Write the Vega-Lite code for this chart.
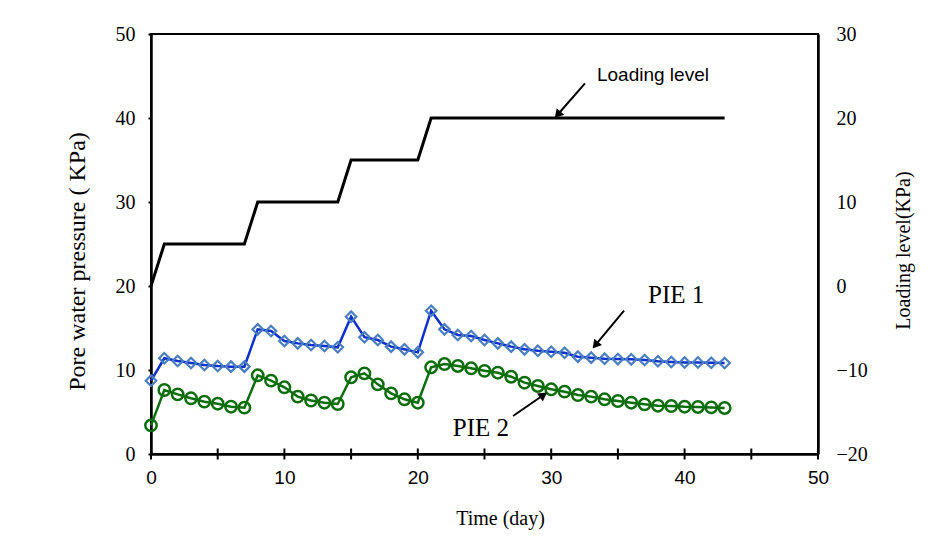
{
  "$schema": "https://vega.github.io/schema/vega-lite/v6.json",
  "width": 667,
  "height": 420,
  "autosize": "none",
  "padding": {"left": 151, "top": 34, "right": 133, "bottom": 83},
  "background": "white",
  "config": {
    "view": {"stroke": "black", "strokeWidth": 2},
    "axis": {"grid": false, "ticks": true, "zindex": 1, "domainColor": "black", "domainWidth": 2.5, "tickColor": "black", "tickWidth": 2, "tickOpacity": 1, "labelColor": "black", "titleColor": "black", "titleFontWeight": "normal", "labelFlush": false, "labelOverlap": false}
  },
  "datasets": {
    "pie": [
      {"day": 0, "series": "PIE 1", "value": 8.73}, {"day": 1, "series": "PIE 1", "value": 11.4}, {"day": 2, "series": "PIE 1", "value": 11.07}, {"day": 3, "series": "PIE 1", "value": 10.83}, {"day": 4, "series": "PIE 1", "value": 10.6}, {"day": 5, "series": "PIE 1", "value": 10.48}, {"day": 6, "series": "PIE 1", "value": 10.4}, {"day": 7, "series": "PIE 1", "value": 10.4}, {"day": 8, "series": "PIE 1", "value": 14.84}, {"day": 9, "series": "PIE 1", "value": 14.64}, {"day": 10, "series": "PIE 1", "value": 13.45}, {"day": 11, "series": "PIE 1", "value": 13.17}, {"day": 12, "series": "PIE 1", "value": 12.97}, {"day": 13, "series": "PIE 1", "value": 12.86}, {"day": 14, "series": "PIE 1", "value": 12.7}, {"day": 15, "series": "PIE 1", "value": 16.35}, {"day": 16, "series": "PIE 1", "value": 13.9}, {"day": 17, "series": "PIE 1", "value": 13.57}, {"day": 18, "series": "PIE 1", "value": 12.78}, {"day": 19, "series": "PIE 1", "value": 12.46}, {"day": 20, "series": "PIE 1", "value": 12.1}, {"day": 21, "series": "PIE 1", "value": 17.06}, {"day": 22, "series": "PIE 1", "value": 14.84}, {"day": 23, "series": "PIE 1", "value": 14.17}, {"day": 24, "series": "PIE 1", "value": 14.05}, {"day": 25, "series": "PIE 1", "value": 13.57}, {"day": 26, "series": "PIE 1", "value": 13.17}, {"day": 27, "series": "PIE 1", "value": 12.78}, {"day": 28, "series": "PIE 1", "value": 12.46}, {"day": 29, "series": "PIE 1", "value": 12.3}, {"day": 30, "series": "PIE 1", "value": 12.18}, {"day": 31, "series": "PIE 1", "value": 12.06}, {"day": 32, "series": "PIE 1", "value": 11.59}, {"day": 33, "series": "PIE 1", "value": 11.47}, {"day": 34, "series": "PIE 1", "value": 11.35}, {"day": 35, "series": "PIE 1", "value": 11.3}, {"day": 36, "series": "PIE 1", "value": 11.27}, {"day": 37, "series": "PIE 1", "value": 11.19}, {"day": 38, "series": "PIE 1", "value": 11.05}, {"day": 39, "series": "PIE 1", "value": 10.96}, {"day": 40, "series": "PIE 1", "value": 10.9}, {"day": 41, "series": "PIE 1", "value": 10.9}, {"day": 42, "series": "PIE 1", "value": 10.87}, {"day": 43, "series": "PIE 1", "value": 10.83},
      {"day": 0, "series": "PIE 2", "value": 3.41}, {"day": 1, "series": "PIE 2", "value": 7.62}, {"day": 2, "series": "PIE 2", "value": 7.1}, {"day": 3, "series": "PIE 2", "value": 6.63}, {"day": 4, "series": "PIE 2", "value": 6.23}, {"day": 5, "series": "PIE 2", "value": 5.99}, {"day": 6, "series": "PIE 2", "value": 5.63}, {"day": 7, "series": "PIE 2", "value": 5.52}, {"day": 8, "series": "PIE 2", "value": 9.37}, {"day": 9, "series": "PIE 2", "value": 8.73}, {"day": 10, "series": "PIE 2", "value": 7.94}, {"day": 11, "series": "PIE 2", "value": 6.83}, {"day": 12, "series": "PIE 2", "value": 6.37}, {"day": 13, "series": "PIE 2", "value": 6.11}, {"day": 14, "series": "PIE 2", "value": 5.95}, {"day": 15, "series": "PIE 2", "value": 9.13}, {"day": 16, "series": "PIE 2", "value": 9.6}, {"day": 17, "series": "PIE 2", "value": 8.29}, {"day": 18, "series": "PIE 2", "value": 7.22}, {"day": 19, "series": "PIE 2", "value": 6.51}, {"day": 20, "series": "PIE 2", "value": 6.11}, {"day": 21, "series": "PIE 2", "value": 10.32}, {"day": 22, "series": "PIE 2", "value": 10.71}, {"day": 23, "series": "PIE 2", "value": 10.48}, {"day": 24, "series": "PIE 2", "value": 10.2}, {"day": 25, "series": "PIE 2", "value": 9.9}, {"day": 26, "series": "PIE 2", "value": 9.68}, {"day": 27, "series": "PIE 2", "value": 9.2}, {"day": 28, "series": "PIE 2", "value": 8.49}, {"day": 29, "series": "PIE 2", "value": 8.1}, {"day": 30, "series": "PIE 2", "value": 7.7}, {"day": 31, "series": "PIE 2", "value": 7.42}, {"day": 32, "series": "PIE 2", "value": 7.02}, {"day": 33, "series": "PIE 2", "value": 6.83}, {"day": 34, "series": "PIE 2", "value": 6.51}, {"day": 35, "series": "PIE 2", "value": 6.31}, {"day": 36, "series": "PIE 2", "value": 6.11}, {"day": 37, "series": "PIE 2", "value": 5.91}, {"day": 38, "series": "PIE 2", "value": 5.75}, {"day": 39, "series": "PIE 2", "value": 5.71}, {"day": 40, "series": "PIE 2", "value": 5.63}, {"day": 41, "series": "PIE 2", "value": 5.6}, {"day": 42, "series": "PIE 2", "value": 5.55}, {"day": 43, "series": "PIE 2", "value": 5.48}
    ],
    "loading": [
      {"day": 0, "load": 0}, {"day": 1, "load": 5}, {"day": 7, "load": 5}, {"day": 8, "load": 10}, {"day": 14, "load": 10}, {"day": 15, "load": 15}, {"day": 20, "load": 15}, {"day": 21, "load": 20}, {"day": 43, "load": 20}
    ],
    "arrows": [
      {"name": "Loading level", "day": 32.53, "value": 44.13, "day2": 30.48, "value2": 40.39},
      {"name": "PIE 1", "day": 35.46, "value": 17.06, "day2": 33.31, "value2": 12.95},
      {"name": "PIE 2", "day": 27.14, "value": 4.52, "day2": 29.42, "value2": 7.02}
    ],
    "labels": [
      {"name": "Loading level", "day": 33.43, "value": 44.44},
      {"name": "PIE 1", "day": 37.26, "value": 17.98},
      {"name": "PIE 2", "day": 22.62, "value": 2.18}
    ],
    "ticks5": [{"t": 0}, {"t": 5}, {"t": 10}, {"t": 15}, {"t": 20}, {"t": 25}, {"t": 30}, {"t": 35}, {"t": 40}, {"t": 45}, {"t": 50}],
    "ticks25": [{"t": 2.5}, {"t": 5}, {"t": 7.5}, {"t": 10}, {"t": 12.5}, {"t": 15}, {"t": 17.5}, {"t": 20}, {"t": 22.5}, {"t": 25}, {"t": 27.5}, {"t": 30}, {"t": 32.5}, {"t": 35}, {"t": 37.5}, {"t": 40}, {"t": 42.5}, {"t": 45}, {"t": 47.5}]
  },
  "encoding": {
    "x": {
      "field": "day", "type": "quantitative",
      "scale": {"domain": [0, 50]},
      "axis": {
        "title": "Time (day)", "values": [0, 10, 20, 30, 40, 50],
        "ticks": false, "labelPadding": 14, "labelFont": "Liberation Sans", "labelFontSize": 19,
        "titleFont": "Liberation Serif", "titleFontSize": 20, "titleX": 349, "titleY": 70, "titleBaseline": "alphabetic"
      }
    }
  },
  "layer": [
    {
      "layer": [
        {
          "data": {"name": "pie"},
          "transform": [{"filter": "datum.series == 'PIE 1'"}],
          "mark": {"type": "line", "color": "#0a30d0", "strokeWidth": 2.5},
          "encoding": {
            "y": {
              "field": "value", "type": "quantitative", "scale": {"domain": [0, 50]},
              "axis": {
                "orient": "left", "title": "Pore water pressure ( KPa)",
                "values": [0, 10, 20, 30, 40, 50],
                "ticks": true, "tickSize": 3, "tickWidth": 2, "tickColor": "black", "labelPadding": 13, "labelFont": "Liberation Serif", "labelFontSize": 20,
                "titleFont": "Liberation Serif", "titleFontSize": 24, "titleX": -74, "titleY": 227, "titleBaseline": "middle", "titleAngle": -90, "titleAlign": "center"
              }
            }
          }
        },
        {
          "data": {"name": "ticks5"},
          "mark": {"type": "tick", "orient": "vertical", "size": 11, "thickness": 2, "color": "black", "opacity": 1},
          "encoding": {"x": {"field": "t", "type": "quantitative"}, "y": {"datum": 0, "type": "quantitative"}}
        },
        {
          "data": {"name": "ticks25"},
          "mark": {"type": "tick", "orient": "horizontal", "size": 7, "thickness": 2, "color": "black", "opacity": 1},
          "encoding": {"y": {"field": "t", "type": "quantitative"}, "x": {"datum": 0, "type": "quantitative"}}
        },
        {
          "data": {"name": "ticks5"},
          "mark": {"type": "tick", "orient": "horizontal", "size": 11, "thickness": 2, "color": "black", "opacity": 1},
          "encoding": {"y": {"field": "t", "type": "quantitative"}, "x": {"datum": 50, "type": "quantitative"}}
        },
        {
          "data": {"name": "pie"},
          "transform": [{"filter": "datum.series == 'PIE 1'"}],
          "mark": {"type": "point", "shape": "diamond", "filled": false, "size": 110, "stroke": "#4a7ec0", "strokeWidth": 2.2, "opacity": 1},
          "encoding": {"y": {"field": "value", "type": "quantitative"}}
        },
        {
          "data": {"name": "pie"},
          "transform": [{"filter": "datum.series == 'PIE 2'"}],
          "mark": {"type": "line", "color": "#0b6e0b", "strokeWidth": 2.5},
          "encoding": {"y": {"field": "value", "type": "quantitative"}}
        },
        {
          "data": {"name": "pie"},
          "transform": [{"filter": "datum.series == 'PIE 2'"}],
          "mark": {"type": "point", "shape": "circle", "filled": false, "size": 130, "stroke": "#0b6e0b", "strokeWidth": 2.5, "opacity": 1},
          "encoding": {"y": {"field": "value", "type": "quantitative"}}
        },
        {
          "data": {"name": "arrows"},
          "mark": {"type": "rule", "color": "black", "strokeWidth": 2},
          "encoding": {
            "y": {"field": "value", "type": "quantitative"},
            "x2": {"field": "day2"},
            "y2": {"field": "value2"}
          }
        },
        {
          "data": {"name": "arrows"},
          "transform": [{"filter": "datum.name == 'Loading level'"}],
          "mark": {"type": "point", "shape": "triangle-up", "filled": true, "color": "black", "size": 100, "angle": 221, "opacity": 1},
          "encoding": {"x": {"field": "day2", "type": "quantitative"}, "y": {"field": "value2", "type": "quantitative"}}
        },
        {
          "data": {"name": "arrows"},
          "transform": [{"filter": "datum.name == 'PIE 1'"}],
          "mark": {"type": "point", "shape": "triangle-up", "filled": true, "color": "black", "size": 100, "angle": 220, "opacity": 1},
          "encoding": {"x": {"field": "day2", "type": "quantitative"}, "y": {"field": "value2", "type": "quantitative"}}
        },
        {
          "data": {"name": "arrows"},
          "transform": [{"filter": "datum.name == 'PIE 2'"}],
          "mark": {"type": "point", "shape": "triangle-up", "filled": true, "color": "black", "size": 100, "angle": 55, "opacity": 1},
          "encoding": {"x": {"field": "day2", "type": "quantitative"}, "y": {"field": "value2", "type": "quantitative"}}
        },
        {
          "data": {"name": "labels"},
          "transform": [{"filter": "datum.name == 'Loading level'"}],
          "mark": {"type": "text", "align": "left", "baseline": "alphabetic", "font": "Liberation Sans", "fontSize": 19, "color": "black"},
          "encoding": {"y": {"field": "value", "type": "quantitative"}, "text": {"field": "name"}}
        },
        {
          "data": {"name": "labels"},
          "transform": [{"filter": "datum.name != 'Loading level'"}],
          "mark": {"type": "text", "align": "left", "baseline": "alphabetic", "font": "Liberation Serif", "fontSize": 25, "color": "black"},
          "encoding": {"y": {"field": "value", "type": "quantitative"}, "text": {"field": "name"}}
        }
      ]
    },
    {
      "data": {"name": "loading"},
      "mark": {"type": "line", "color": "black", "strokeWidth": 3},
      "encoding": {
        "y": {
          "field": "load", "type": "quantitative", "scale": {"domain": [-20, 30]},
          "axis": {
            "orient": "right", "title": "Loading level(KPa)",
            "values": [-20, -10, 0, 10, 20, 30],
            "ticks": false, "labelPadding": 18, "labelFont": "Liberation Serif", "labelFontSize": 20,
            "titleFont": "Liberation Serif", "titleFontSize": 20, "titleX": 85, "titleY": 216, "titleBaseline": "middle", "titleAngle": -90, "titleAlign": "center"
          }
        }
      }
    }
  ],
  "resolve": {"scale": {"y": "independent"}}
}
